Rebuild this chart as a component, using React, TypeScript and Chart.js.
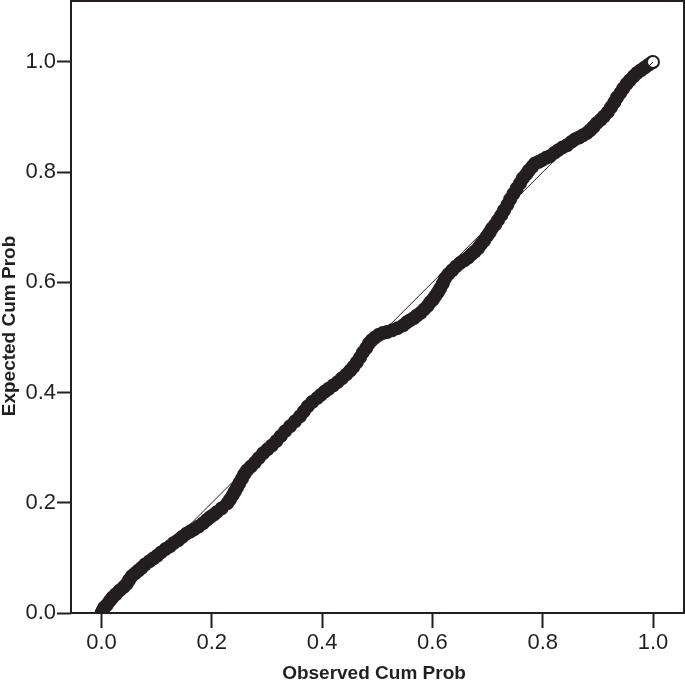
import React, { useEffect, useRef } from "react";
import { Chart, registerables } from "chart.js";

Chart.register(...registerables);

// Observed cumulative probability (x) and expected cumulative probability (y)
const observed: number[] = [
  0.000, 0.002, 0.005, 0.010, 0.015, 0.020, 0.026, 0.033, 0.040, 0.046,
  0.050, 0.055, 0.061, 0.067, 0.073, 0.079, 0.087, 0.094, 0.101, 0.108,
  0.116, 0.124, 0.131, 0.139, 0.146, 0.154, 0.161, 0.168, 0.176, 0.184,
  0.191, 0.197, 0.203, 0.209, 0.218, 0.228, 0.233, 0.238, 0.242, 0.246,
  0.250, 0.255, 0.259, 0.264, 0.271, 0.278, 0.285, 0.293, 0.301, 0.309,
  0.317, 0.325, 0.333, 0.342, 0.351, 0.360, 0.367, 0.374, 0.382, 0.391,
  0.398, 0.405, 0.412, 0.420, 0.428, 0.436, 0.444, 0.451, 0.457, 0.463,
  0.469, 0.474, 0.480, 0.485, 0.490, 0.496, 0.503, 0.510, 0.518, 0.527,
  0.537, 0.547, 0.553, 0.559, 0.566, 0.572, 0.579, 0.585, 0.591, 0.596,
  0.601, 0.605, 0.610, 0.614, 0.619, 0.623, 0.629, 0.636, 0.643, 0.650,
  0.658, 0.665, 0.671, 0.677, 0.683, 0.688, 0.694, 0.699, 0.704, 0.708,
  0.714, 0.719, 0.725, 0.730, 0.736, 0.741, 0.747, 0.753, 0.759, 0.764,
  0.770, 0.775, 0.781, 0.786, 0.793, 0.799, 0.806, 0.813, 0.821, 0.828,
  0.836, 0.844, 0.852, 0.859, 0.866, 0.873, 0.880, 0.886, 0.892, 0.898,
  0.905, 0.911, 0.918, 0.924, 0.930, 0.935, 0.941, 0.946, 0.952, 0.958,
  0.965, 0.971, 0.978, 0.985, 0.992, 0.998, 1.000,
];
const expected: number[] = [
  0.000, 0.004, 0.010, 0.015, 0.022, 0.028, 0.034, 0.041, 0.047, 0.053,
  0.060, 0.067, 0.072, 0.077, 0.082, 0.088, 0.094, 0.099, 0.104, 0.110,
  0.116, 0.121, 0.127, 0.132, 0.138, 0.144, 0.148, 0.152, 0.157, 0.163,
  0.169, 0.174, 0.178, 0.183, 0.190, 0.199, 0.206, 0.214, 0.221, 0.228,
  0.236, 0.244, 0.252, 0.259, 0.266, 0.273, 0.281, 0.290, 0.297, 0.304,
  0.312, 0.321, 0.330, 0.339, 0.348, 0.357, 0.366, 0.375, 0.383, 0.390,
  0.396, 0.402, 0.407, 0.413, 0.419, 0.426, 0.433, 0.440, 0.447, 0.455,
  0.464, 0.473, 0.481, 0.489, 0.495, 0.500, 0.505, 0.508, 0.510, 0.513,
  0.517, 0.522, 0.527, 0.531, 0.535, 0.540, 0.545, 0.551, 0.557, 0.564,
  0.569, 0.575, 0.582, 0.589, 0.598, 0.607, 0.615, 0.622, 0.629, 0.635,
  0.640, 0.645, 0.651, 0.656, 0.662, 0.669, 0.676, 0.684, 0.691, 0.698,
  0.705, 0.713, 0.722, 0.731, 0.741, 0.751, 0.761, 0.771, 0.780, 0.789,
  0.796, 0.803, 0.810, 0.816, 0.819, 0.822, 0.826, 0.829, 0.835, 0.840,
  0.845, 0.849, 0.855, 0.860, 0.863, 0.867, 0.871, 0.876, 0.882, 0.889,
  0.895, 0.901, 0.909, 0.918, 0.927, 0.936, 0.944, 0.952, 0.960, 0.967,
  0.974, 0.980, 0.985, 0.990, 0.995, 0.999, 1.000,
];
const referenceLineX: number[] = [0, 1];
const referenceLineY: number[] = [0, 1];
const xTicks: number[] = [0, 0.2, 0.4, 0.6, 0.8, 1.0];
const yTicks: number[] = [0, 0.2, 0.4, 0.6, 0.8, 1.0];
const xTitle = "Observed Cum Prob";
const yTitle = "Expected Cum Prob";

const INK = "#231f20";
const FONT = "'Liberation Sans', Arial, Helvetica, sans-serif";

const zeroPadding = (s: any) => {
  s.paddingTop = 0;
  s.paddingBottom = 0;
  s.paddingLeft = 0;
  s.paddingRight = 0;
};

export default function App() {
  const ref = useRef<HTMLCanvasElement | null>(null);

  useEffect(() => {
    document.body.style.margin = "0";
    const canvas = ref.current;
    if (!canvas) return;
    const points = observed.map((x, i) => ({ x, y: expected[i] }));
    const line = referenceLineX.map((x, i) => ({ x, y: referenceLineY[i] }));
    const last = points.length - 1;

    const framePlugin = {
      id: "frameAndTitles",
      afterDraw(chart: any) {
        const { ctx, chartArea } = chart;
        ctx.save();
        ctx.strokeStyle = INK;
        ctx.lineWidth = 2;
        ctx.strokeRect(chartArea.left, chartArea.top, chartArea.right - chartArea.left, chartArea.bottom - chartArea.top);
        ctx.fillStyle = INK;
        ctx.font = `bold 19px ${FONT}`;
        ctx.textAlign = "center";
        ctx.textBaseline = "alphabetic";
        ctx.fillText(xTitle, 374, 679);
        ctx.translate(14.5, 326);
        ctx.rotate(-Math.PI / 2);
        ctx.fillText(yTitle, 0, 0);
        ctx.restore();
      },
    };

    const chart = new Chart(canvas, {
      type: "scatter",
      data: {
        datasets: [
          {
            type: "line",
            data: line,
            borderColor: INK,
            borderWidth: 1,
            pointRadius: 0,
            fill: false,
          } as any,
          {
            data: points,
            pointRadius: 6,
            pointBorderWidth: 2,
            pointBorderColor: INK,
            pointBackgroundColor: (c: any) => (c.dataIndex === last ? "#ffffff" : INK),
          } as any,
        ],
      },
      options: {
        responsive: false,
        animation: false,
        events: [],
        layout: { autoPadding: false, padding: { top: 1, right: 1, left: 0, bottom: 0 } },
        plugins: { legend: { display: false }, tooltip: { enabled: false } },
        scales: {
          x: {
            type: "linear",
            min: -0.0553,
            max: 1.0562,
            afterFit: (s: any) => { s.height = 68; zeroPadding(s); },
            afterBuildTicks: (s: any) => { s.ticks = xTicks.map((v) => ({ value: v })); },
            border: { display: false },
            grid: { drawOnChartArea: false, drawTicks: true, tickLength: 15, tickWidth: 2, tickColor: INK },
            ticks: {
              color: INK,
              padding: 2,
              font: { family: FONT, size: 22 },
              callback: (v: any) => Number(v).toFixed(1),
              maxRotation: 0,
            },
          },
          y: {
            type: "linear",
            min: 0,
            max: 1.1107,
            afterFit: (s: any) => { s.width = 71; zeroPadding(s); },
            afterBuildTicks: (s: any) => { s.ticks = yTicks.map((v) => ({ value: v })); },
            border: { display: false },
            grid: { drawOnChartArea: false, drawTicks: true, tickLength: 14, tickWidth: 2, tickColor: INK },
            ticks: {
              color: INK,
              padding: 1,
              font: { family: FONT, size: 22 },
              callback: (v: any) => Number(v).toFixed(1),
            },
          },
        },
      },
      plugins: [framePlugin],
    });
    return () => chart.destroy();
  }, []);

  return <canvas ref={ref} width={685} height={681} style={{ display: "block" }} />;
}
